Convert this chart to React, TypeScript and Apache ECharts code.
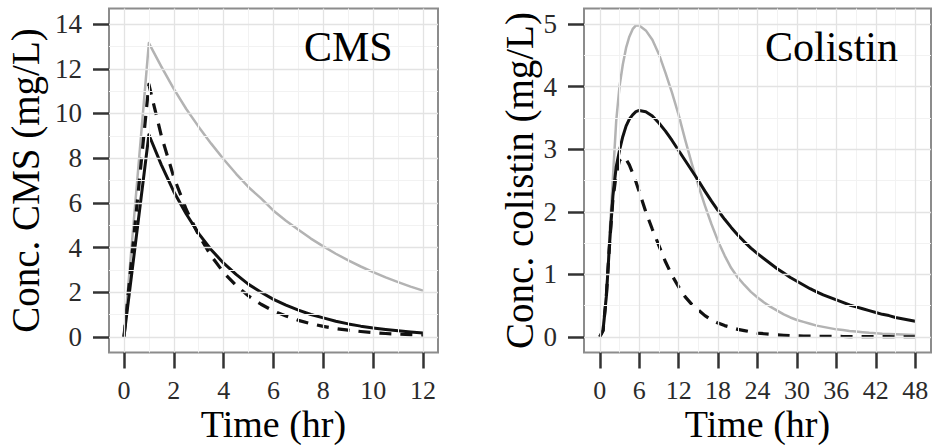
import React, { useEffect, useRef } from "react";
import * as echarts from "echarts";

// ---------- CMS panel (left) ----------
const cmsTime = [0, 1, 1.5, 2, 2.5, 3, 3.5, 4, 4.5, 5, 5.5, 6, 6.5, 7, 7.5, 8, 8.5, 9, 9.5, 10, 10.5, 11, 11.5, 12];
const cmsGray = [0, 13.15, 12.1, 11.1, 10.2, 9.4, 8.65, 7.95, 7.3, 6.7, 6.2, 5.65, 5.2, 4.8, 4.4, 4.05, 3.72, 3.42, 3.15, 2.9, 2.66, 2.45, 2.25, 2.07];
const cmsSolid = [0, 9.05, 7.7, 6.5, 5.5, 4.62, 3.9, 3.3, 2.8, 2.35, 2.0, 1.68, 1.42, 1.2, 1.0, 0.85, 0.7, 0.58, 0.48, 0.4, 0.33, 0.27, 0.22, 0.17];
const cmsDashed = [0, 11.3, 9.0, 7.15, 5.7, 4.55, 3.62, 2.88, 2.3, 1.83, 1.46, 1.16, 0.93, 0.74, 0.59, 0.47, 0.37, 0.3, 0.24, 0.19, 0.15, 0.12, 0.1, 0.08];
const cmsXTicks = [0, 2, 4, 6, 8, 10, 12];
const cmsXMinor = [1, 3, 5, 7, 9, 11];
const cmsYTicks = [0, 2, 4, 6, 8, 10, 12, 14];
const cmsYMinor = [1, 3, 5, 7, 9, 11, 13];

// ---------- Colistin panel (right) ----------
const colTime = [0, 0.5, 1, 1.5, 2, 2.5, 3, 3.5, 4, 4.5, 5, 5.5, 6, 7, 8, 9, 10, 11, 12, 13, 14, 15, 16, 17, 18, 19, 20, 21, 22, 23, 24, 25, 26, 27, 28, 29, 30, 31, 32, 33, 34, 35, 36, 37, 38, 39, 40, 41, 42, 43, 44, 45, 46, 47, 48];
const colGray = [0, 0.1, 0.65, 1.65, 2.55, 3.45, 4.0, 4.35, 4.62, 4.8, 4.92, 4.98, 4.98, 4.9, 4.75, 4.52, 4.22, 3.9, 3.55, 3.15, 2.77, 2.42, 2.1, 1.8, 1.53, 1.3, 1.1, 0.95, 0.83, 0.72, 0.63, 0.55, 0.48, 0.42, 0.36, 0.31, 0.27, 0.24, 0.21, 0.18, 0.16, 0.14, 0.12, 0.11, 0.095, 0.085, 0.075, 0.065, 0.058, 0.05, 0.045, 0.04, 0.036, 0.032, 0.03];
const colSolid = [0, 0.1, 0.65, 1.5, 2.25, 2.72, 2.98, 3.2, 3.37, 3.48, 3.55, 3.6, 3.62, 3.6, 3.53, 3.42, 3.29, 3.14, 2.98, 2.82, 2.66, 2.5, 2.33, 2.17, 2.02, 1.88, 1.75, 1.63, 1.52, 1.42, 1.33, 1.25, 1.17, 1.09, 1.02, 0.95, 0.89, 0.83, 0.77, 0.72, 0.67, 0.63, 0.59, 0.55, 0.51, 0.48, 0.45, 0.42, 0.39, 0.36, 0.34, 0.31, 0.29, 0.27, 0.25];
const colDashed = [0, 0.1, 0.65, 1.5, 2.2, 2.6, 2.82, 2.88, 2.84, 2.75, 2.62, 2.48, 2.32, 2.0, 1.72, 1.46, 1.2, 0.98, 0.8, 0.64, 0.52, 0.43, 0.34, 0.27, 0.22, 0.18, 0.15, 0.12, 0.1, 0.08, 0.06, 0.05, 0.04, 0.032, 0.026, 0.021, 0.017, 0.014, 0.012, 0.01, 0.009, 0.008, 0.007, 0.006, 0.005, 0.005, 0.004, 0.004, 0.003, 0.003, 0.003, 0.002, 0.002, 0.002, 0.002];
const colXTicks = [0, 6, 12, 18, 24, 30, 36, 42, 48];
const colXMinor = [3, 9, 15, 21, 27, 33, 39, 45];
const colYTicks = [0, 1, 2, 3, 4, 5];
const colYMinor = [0.5, 1.5, 2.5, 3.5, 4.5];

const FONT = "'Liberation Serif', 'Times New Roman', serif";
const GRAY = "#b3b3b3";
const INK = "#111111";

function zip(t: number[], v: number[]) {
  return t.map((x, i) => [x, v[i]]);
}

function gridLines(xMajor: number[], xMinor: number[], yMajor: number[], yMinor: number[], idx: number) {
  const major = { color: "#e3e3e3", width: 1.3, type: "solid" as const };
  const minor = { color: "#f2f2f2", width: 1, type: "solid" as const };
  const data: any[] = [];
  xMinor.forEach((v) => data.push({ xAxis: v, lineStyle: minor }));
  yMinor.forEach((v) => data.push({ yAxis: v, lineStyle: minor }));
  xMajor.forEach((v) => data.push({ xAxis: v, lineStyle: major }));
  yMajor.forEach((v) => data.push({ yAxis: v, lineStyle: major }));
  return {
    type: "line",
    name: "grid" + idx,
    xAxisIndex: idx,
    yAxisIndex: idx,
    data: [],
    z: 1,
    silent: true,
    markLine: {
      silent: true,
      symbol: ["none", "none"],
      label: { show: false },
      emphasis: { disabled: true },
      animation: false,
      data,
    },
  };
}

function xAxisCfg(idx: number, min: number, max: number, ticks: number[], nameGap: number) {
  return {
    type: "value",
    gridIndex: idx,
    min,
    max,
    axisLine: { show: false, onZero: false },
    axisTick: { show: true, length: 16, customValues: ticks, lineStyle: { color: "#333", width: 2.5 } },
    axisLabel: { customValues: ticks, margin: 25, fontSize: 26, fontFamily: FONT, color: "#2a2a2a" },
    splitLine: { show: false },
    name: "Time (hr)",
    nameLocation: "middle",
    nameGap,
    nameMoveOverlap: false,
    nameTextStyle: { fontSize: 38, fontFamily: FONT, color: "#000" },
  };
}

function yAxisCfg(idx: number, min: number, max: number, ticks: number[], name: string, nameGap: number) {
  return {
    type: "value",
    gridIndex: idx,
    min,
    max,
    axisLine: { show: false, onZero: false },
    axisTick: { show: true, length: 16, customValues: ticks, lineStyle: { color: "#333", width: 2.5 } },
    axisLabel: { customValues: ticks, margin: 27, fontSize: 27, fontFamily: FONT, color: "#2a2a2a" },
    splitLine: { show: false },
    name,
    nameLocation: "middle",
    nameGap,
    nameMoveOverlap: false,
    nameTextStyle: { fontSize: 39, fontFamily: FONT, color: "#000" },
  };
}

function curve(name: string, idx: number, t: number[], v: number[], color: string, width: number, dashed: boolean) {
  return {
    type: "line",
    name,
    xAxisIndex: idx,
    yAxisIndex: idx,
    data: zip(t, v),
    showSymbol: false,
    symbol: "none",
    smooth: false,
    z: 3,
    lineStyle: { color, width, type: dashed ? [12, 9] : "solid", cap: "butt", join: "round" },
    emphasis: { disabled: true },
  };
}

export default function App() {
  const ref = useRef<HTMLDivElement>(null);
  useEffect(() => {
    if (!ref.current) return;
    const chart = echarts.init(ref.current, undefined, { renderer: "svg" });
    const gridBase = {
      top: 8.5,
      height: 344,
      show: true,
      borderColor: "#8c8c8c",
      borderWidth: 2,
      backgroundColor: "#fff",
      containLabel: false,
      outerBoundsMode: "none",
    };
    const panelTitle = (text: string, left: number) => ({
      text,
      left,
      top: 26,
      padding: 0,
      textStyle: { fontSize: 42, fontFamily: FONT, fontWeight: "normal", color: "#000" },
    });
    const option: any = {
      animation: false,
      backgroundColor: "#ffffff",
      title: [panelTitle("CMS", 304), panelTitle("Colistin", 765)],
      grid: [
        { ...gridBase, left: 109, width: 329 },
        { ...gridBase, left: 584, width: 347 },
      ],
      xAxis: [xAxisCfg(0, -0.6, 12.6, cmsXTicks, 52), xAxisCfg(1, -2.4, 50.4, colXTicks, 52)],
      yAxis: [
        yAxisCfg(0, -0.7, 14.7, cmsYTicks, "Conc. CMS (mg/L)", 64),
        yAxisCfg(1, -0.25, 5.25, colYTicks, "Conc. colistin (mg/L)", 45),
      ],
      series: [
        gridLines(cmsXTicks, cmsXMinor, cmsYTicks, cmsYMinor, 0),
        gridLines(colXTicks, colXMinor, colYTicks, colYMinor, 1),
        curve("CMS A", 0, cmsTime, cmsGray, GRAY, 2.5, false),
        curve("CMS B", 0, cmsTime, cmsSolid, INK, 3, false),
        curve("CMS C", 0, cmsTime, cmsDashed, INK, 3.2, true),
        curve("Colistin A", 1, colTime, colGray, GRAY, 2.5, false),
        curve("Colistin B", 1, colTime, colSolid, INK, 3, false),
        curve("Colistin C", 1, colTime, colDashed, INK, 3.2, true),
      ],
    };
    chart.setOption(option);
    return () => chart.dispose();
  }, []);
  return <div ref={ref} style={{ position: "absolute", left: 0, top: 0, width: 933, height: 445 }} />;
}
